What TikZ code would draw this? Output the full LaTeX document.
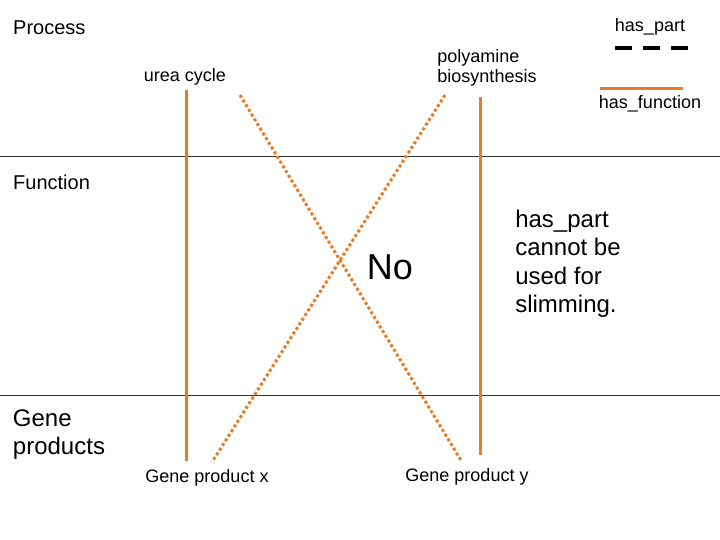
\documentclass[tikz,border=0pt]{standalone}
\usepackage{fontspec}
\setmainfont{Liberation Sans}
\definecolor{org}{RGB}{230,125,40}
\begin{document}
\begin{tikzpicture}[x=1pt,y=-1pt,
  lbl/.style={inner sep=0pt,font=\fontsize{18}{20}\selectfont},
  hf/.style={org,line width=3pt},
  hp/.style={org,line width=3pt,dash pattern=on 3pt off 2.5pt},
  sep/.style={draw=black!80,line width=0.8pt}]
\useasboundingbox (0,0) rectangle (720,540);
\draw[sep] (0,156) -- (720,156);
\draw[sep] (0,395) -- (720,395);
\node[lbl,anchor=west,font=\fontsize{20}{22}\selectfont] (proc) at (13,28) {Process};
\node[lbl,anchor=west,font=\fontsize{20}{22}\selectfont] (func) at (13,182) {Function};
\node[lbl,anchor=center,align=left,font=\fontsize{24}{28}\selectfont] (gp) at (59,435) {Gene\\products};
\node[lbl] (urea) at (185,77) {urea cycle};
\node[lbl,align=left] (poly) at (487,68) {polyamine\\biosynthesis};
\node[lbl] (gpx) at (207,478) {Gene product x};
\node[lbl] (gpy) at (467,477) {Gene product y};
\node[inner sep=0pt,font=\fontsize{36}{40}\selectfont] (no) at (390,267) {No};
\node[inner sep=0pt,align=left,font=\fontsize{24}{28.5}\selectfont] (note) at (568,264) {has\_part\\cannot be\\used for\\slimming.};
\node[lbl] (hpl) at (650,27) {has\_part};
\node[lbl] (hfl) at (650,104) {has\_function};
\coordinate (ua) at (186,90); \coordinate (ub) at (186,461);
\coordinate (pa) at (480,97); \coordinate (pb) at (480,455);
\coordinate (d1a) at (240,95); \coordinate (d1b) at (462,462);
\coordinate (d2a) at (445,95); \coordinate (d2b) at (212,462);
\draw[hf] (ua) -- (ub);
\draw[hf] (pa) -- (pb);
\draw[hp] (d1a) -- (d1b);
\draw[hp] (d2a) -- (d2b);
\coordinate (la) at (615,48); \coordinate (lb) at (690,48);
\draw[line width=4pt,dash pattern=on 17pt off 11pt] (la) -- (lb);
\coordinate (ma) at (600,89); \coordinate (mb) at (683,89);
\draw[hf] (ma) -- (mb);
\end{tikzpicture}
\end{document}
